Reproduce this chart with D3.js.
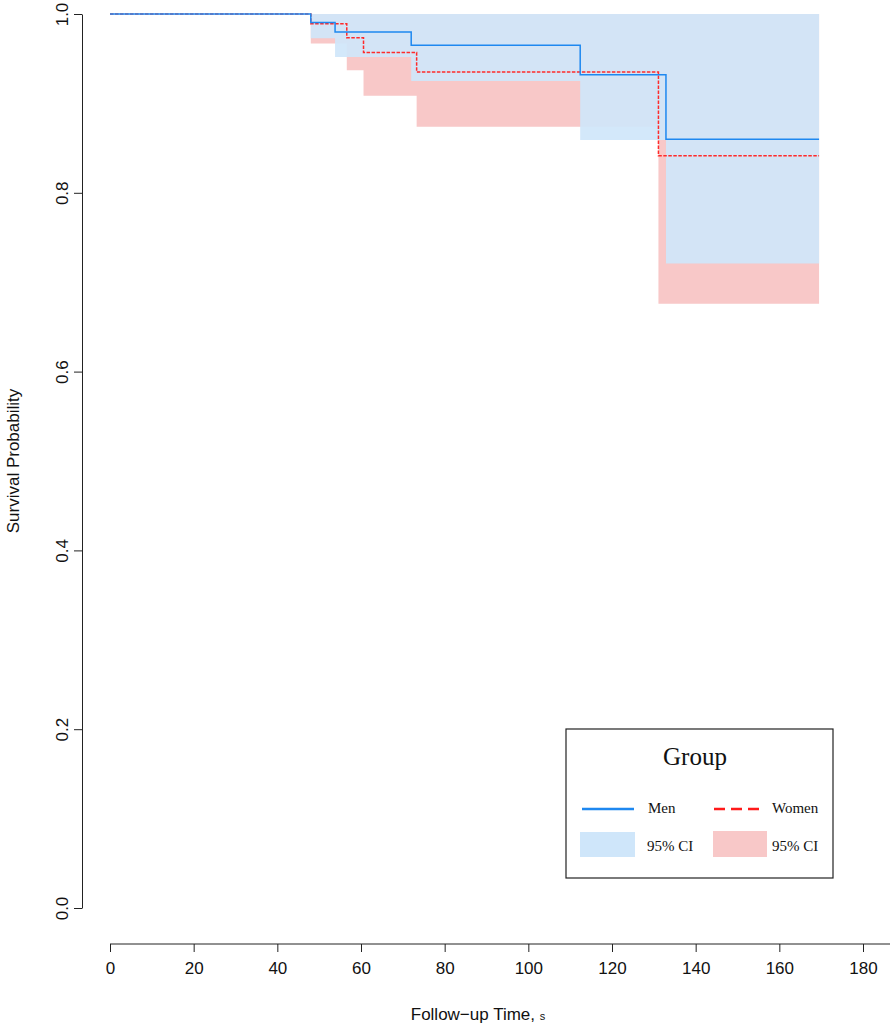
<!DOCTYPE html>
<html>
<head>
<meta charset="utf-8">
<script src="https://cdn.jsdelivr.net/npm/d3@7"></script>
<style>
  html, body { margin: 0; padding: 0; background: #fff; }
  svg { display: block; }
  .tick text { font-family: "Liberation Sans Narrow", "Arial Narrow", "Liberation Sans", sans-serif; }
</style>
</head>
<body>
<svg id="chart" width="894" height="1027"></svg>
<script>
// ---- data ----
const endTime = 169.5;
const menTime   = [0, 48, 53.8, 72, 112.4, 132.9];
const menSurv   = [1, 0.9905, 0.980, 0.965, 0.932, 0.860];
const menLower  = [1, 0.9728, 0.952, 0.925, 0.859, 0.721];
const menUpper  = [1, 1, 1, 1, 1, 1];
const womenTime  = [0, 48, 56.6, 60.6, 73.3, 131.1];
const womenSurv  = [1, 0.989, 0.9735, 0.957, 0.935, 0.8415];
const womenLower = [1, 0.967, 0.937, 0.9086, 0.874, 0.676];
const womenUpper = [1, 1, 1, 1, 1, 1];
const xTicks = [0, 20, 40, 60, 80, 100, 120, 140, 160, 180];
const yTicks = [0, 0.2, 0.4, 0.6, 0.8, 1.0];
const legendLabels = ["Men", "Women", "95% CI", "95% CI"];

// ---- layout ----
const svg = d3.select("#chart");
const x = d3.scaleLinear().domain([0, 180]).range([110, 863]);
const y = d3.scaleLinear().domain([0, 1]).range([908, 14]);

const menColor = "#1e88f0", womenColor = "#ff2a2a";
const menFill = "#cfe6fa", womenFill = "#f8c8c8";

function series(times, surv, lower, upper) {
  const pts = times.map((t, i) => ({t, s: surv[i], lo: lower[i], hi: upper[i]}));
  const last = pts[pts.length - 1];
  pts.push({t: endTime, s: last.s, lo: last.lo, hi: last.hi});
  return pts;
}
const men = series(menTime, menSurv, menLower, menUpper);
const women = series(womenTime, womenSurv, womenLower, womenUpper);

const area = d3.area().curve(d3.curveStepAfter)
  .x(d => x(d.t)).y0(d => y(d.lo)).y1(d => y(d.hi));
const line = d3.line().curve(d3.curveStepAfter)
  .x(d => x(d.t)).y(d => y(d.s));

// CI bands (from first event onward)
svg.append("path").datum(women.filter(d => d.t >= 48))
  .attr("d", area).attr("fill", womenFill);
svg.append("path").datum(men.filter(d => d.t >= 48))
  .attr("d", area).attr("fill", menFill).attr("fill-opacity", 0.92);

// survival lines (women first, men drawn on top)
svg.append("path").datum(women).attr("d", line)
  .attr("fill", "none").attr("stroke", womenColor).attr("stroke-width", 1.5)
  .attr("stroke-dasharray", "3.5,1.5");
svg.append("path").datum(men).attr("d", line)
  .attr("fill", "none").attr("stroke", menColor).attr("stroke-width", 1.5);

// ---- axes ----
const xAxis = svg.append("g").attr("transform", "translate(0,944)")
  .call(d3.axisBottom(x).tickValues(xTicks).tickSize(8).tickSizeOuter(0).tickFormat(d3.format("d")));
xAxis.select(".domain").attr("d", "M110,0H890").attr("stroke", "#222");
xAxis.selectAll(".tick line").attr("stroke", "#222").attr("y2", 8);
xAxis.selectAll(".tick text").attr("y", 18).attr("font-size", 17).attr("fill", "#111");

const yAxis = svg.append("g").attr("transform", "translate(82,0)")
  .call(d3.axisLeft(y).tickValues(yTicks).tickSize(8).tickSizeOuter(0).tickFormat(d3.format(".1f")));
yAxis.select(".domain").attr("stroke", "#222");
yAxis.selectAll(".tick line").attr("stroke", "#222");
yAxis.selectAll(".tick text")
  .attr("font-size", 17).attr("fill", "#111")
  .attr("text-anchor", "middle").attr("dy", null)
  .attr("x", null)
  .attr("transform", "translate(-14,0) rotate(-90)");

// axis titles
svg.append("text")
  .attr("transform", "translate(19,461) rotate(-90)")
  .attr("text-anchor", "middle")
  .attr("font-family", "'Liberation Sans Narrow', 'Liberation Sans', sans-serif")
  .attr("font-size", 17).attr("fill", "#111")
  .text("Survival Probability");

const xt = svg.append("text")
  .attr("x", 478).attr("y", 1020).attr("text-anchor", "middle")
  .attr("font-family", "'Liberation Sans Narrow', 'Liberation Sans', sans-serif")
  .attr("font-size", 17).attr("fill", "#111");
xt.append("tspan").text("Follow\u2212up Time, ");
xt.append("tspan").attr("font-size", 11).text("s");

// ---- legend ----
const lg = svg.append("g").attr("font-family", "'Liberation Serif', 'Times New Roman', serif");
lg.append("rect").attr("x", 566).attr("y", 729).attr("width", 267).attr("height", 149)
  .attr("fill", "#fff").attr("stroke", "#222").attr("stroke-width", 1.2);
lg.append("text").attr("x", 695).attr("y", 765).attr("text-anchor", "middle")
  .attr("font-size", 25).attr("fill", "#111").text("Group");

lg.append("line").attr("x1", 582).attr("x2", 634).attr("y1", 809).attr("y2", 809)
  .attr("stroke", menColor).attr("stroke-width", 2.6);
lg.append("line").attr("x1", 714).attr("x2", 762).attr("y1", 809).attr("y2", 809)
  .attr("stroke", "#ff1a1a").attr("stroke-width", 2.6).attr("stroke-dasharray", "11,6");
lg.append("rect").attr("x", 580).attr("y", 832).attr("width", 55).attr("height", 25).attr("fill", menFill);
lg.append("rect").attr("x", 713).attr("y", 831).attr("width", 54).attr("height", 26).attr("fill", womenFill);

const lx = [648, 772, 647, 772], ly = [813, 813, 851, 851];
legendLabels.forEach((t, i) => {
  lg.append("text").attr("x", lx[i]).attr("y", ly[i])
    .attr("font-size", 15).attr("fill", "#111").text(t);
});
</script>
</body>
</html>
